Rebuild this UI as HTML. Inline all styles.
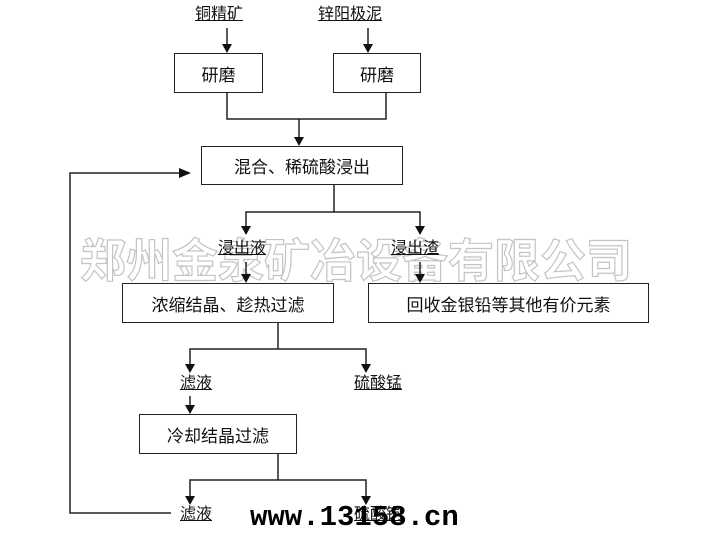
<!DOCTYPE html>
<html><head><meta charset="utf-8"><style>
body{margin:0;width:720px;height:540px;background:#fff;overflow:hidden;position:relative;font-family:"Liberation Sans","Noto Sans CJK SC",sans-serif;}
.t{position:absolute;font-size:16px;color:#111;white-space:nowrap;line-height:20px;z-index:3}
.u{text-decoration:underline}
.b{position:absolute;border:1.5px solid #222;box-sizing:border-box;display:flex;align-items:center;justify-content:center;font-size:17px;color:#111;background:#fff;z-index:2}
</style></head><body>
<div style="position:absolute;left:80px;top:236px;font-size:46px;font-weight:bold;color:#fff;-webkit-text-stroke:1.2px #c4c4c4;white-space:nowrap;line-height:50px;z-index:1">郑州金泉矿冶设备有限公司</div>
<svg width="720" height="540" style="position:absolute;left:0;top:0;z-index:2">
<g stroke="#222" stroke-width="1.5" fill="none">
<line x1="227" y1="28" x2="227" y2="45"/>
<line x1="368" y1="28" x2="368" y2="45"/>
<polyline points="227,93 227,119 386,119 386,93"/>
<line x1="299" y1="119" x2="299" y2="138"/>
<line x1="334" y1="185" x2="334" y2="212"/>
<polyline points="246,227 246,212 420,212 420,227"/>
<line x1="246" y1="262" x2="246" y2="275"/>
<line x1="420" y1="262" x2="420" y2="275"/>
<line x1="278" y1="323" x2="278" y2="349"/>
<polyline points="190,365 190,349 366,349 366,365"/>
<line x1="190" y1="396" x2="190" y2="406"/>
<line x1="278" y1="454" x2="278" y2="480"/>
<polyline points="190,497 190,480 366,480 366,497"/>
<polyline points="171,513 70,513 70,173 180,173"/>
</g>
<g fill="#111">
<path d="M222,44 L232,44 L227,53z"/>
<path d="M363,44 L373,44 L368,53z"/>
<path d="M294,137 L304,137 L299,146z"/>
<path d="M241,226 L251,226 L246,235z"/>
<path d="M415,226 L425,226 L420,235z"/>
<path d="M241,274 L251,274 L246,283z"/>
<path d="M415,274 L425,274 L420,283z"/>
<path d="M185,364 L195,364 L190,373z"/>
<path d="M361,364 L371,364 L366,373z"/>
<path d="M185,405 L195,405 L190,414z"/>
<path d="M185,496 L195,496 L190,505z"/>
<path d="M361,496 L371,496 L366,505z"/>
<path d="M179,168 L191,173 L179,178z"/>
</g>
</svg>
<div class="t u" style="left:195px;top:5px">铜精矿</div>
<div class="t u" style="left:318px;top:5px">锌阳极泥</div>
<div class="b" style="left:174px;top:53px;width:89px;height:40px">研磨</div>
<div class="b" style="left:333px;top:53px;width:88px;height:40px">研磨</div>
<div class="b" style="left:201px;top:146px;width:202px;height:39px">混合、稀硫酸浸出</div>
<div class="t u" style="left:218px;top:239px">浸出液</div>
<div class="t u" style="left:391px;top:239px">浸出渣</div>
<div class="b" style="left:122px;top:283px;width:212px;height:40px">浓缩结晶、趁热过滤</div>
<div class="b" style="left:368px;top:283px;width:281px;height:40px">回收金银铅等其他有价元素</div>
<div class="t u" style="left:180px;top:374px">滤液</div>
<div class="t u" style="left:354px;top:374px">硫酸锰</div>
<div class="b" style="left:139px;top:414px;width:158px;height:40px">冷却结晶过滤</div>
<div class="t u" style="left:180px;top:505px">滤液</div>
<div class="t u" style="left:354px;top:505px">硫酸铜</div>
<div style="position:absolute;left:250px;top:502px;font-family:'Liberation Mono',monospace;font-size:29px;font-weight:bold;color:#000;line-height:32px;z-index:4">www.13158.cn</div>
</body></html>
